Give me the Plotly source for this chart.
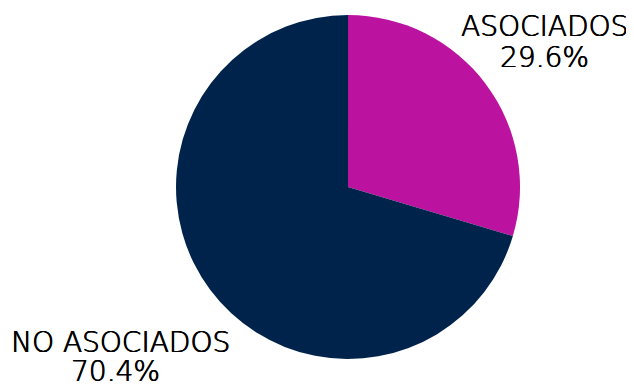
import plotly.graph_objects as go

labels = ["ASOCIADOS", "NO ASOCIADOS"]
values = [29.6, 70.4]
colors = ["#BC12A0", "#00234B"]

fig = go.Figure()
fig.add_trace(go.Pie(
    labels=labels,
    values=values,
    sort=False,
    direction="clockwise",
    rotation=0,
    marker=dict(colors=colors, line=dict(width=0)),
    textinfo="none",
    hoverinfo="label+percent",
    domain=dict(x=[0.265, 0.8076], y=[0.0883, 0.9818]),
))

# label line positions (paper coords): (name line), (percent line)
label_pos = [
    ((0.847, 0.952), (0.847, 0.8727)),
    ((0.1767, 0.1312), (0.1703, 0.0558)),
]
total = sum(values)
# thin font thickened slightly with a shadow to get a light/regular look
lab_font = dict(family="DejaVu Sans", size=28, color="#000000", weight=300,
                shadow="0.5px 0 0 #000000, -0.3px 0 0 #000000")
for lab, val, (p1, p2) in zip(labels, values, label_pos):
    fig.add_annotation(x=p1[0], y=p1[1], xref="paper", yref="paper",
                       text=lab, showarrow=False,
                       xanchor="center", yanchor="middle", font=lab_font)
    fig.add_annotation(x=p2[0], y=p2[1], xref="paper", yref="paper",
                       text=f"{val / total * 100:.1f}%", showarrow=False,
                       xanchor="center", yanchor="middle", font=lab_font)

fig.update_layout(
    width=634, height=385,
    margin=dict(l=0, r=0, t=0, b=0),
    paper_bgcolor="white",
    plot_bgcolor="white",
    showlegend=False,
)

fig.write_html("out.html")
